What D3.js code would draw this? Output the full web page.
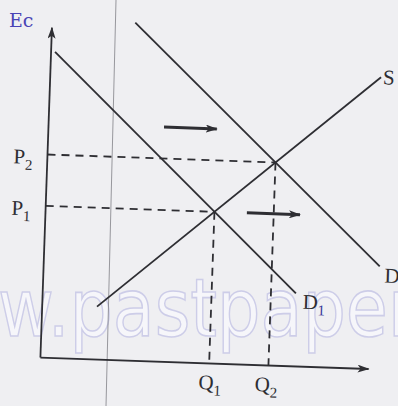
<!DOCTYPE html>
<html><head><meta charset="utf-8">
<script src="https://cdn.jsdelivr.net/npm/d3@7"></script>
<style>html,body{margin:0;padding:0;background:#efeff2;}svg{display:block;}</style>
</head><body>
<svg id="chart" width="398" height="406"></svg>
<script>
// ---- data (quantity, price) in chart units ----
const demand1 = [[0.12, 9.27], [7.67, 2.21]];
const demand2 = [[2.52, 10.24], [10.18, 3.12]];
const supply  = [[1.66, 1.6], [10.02, 8.85]];
const curveLabels = ["D", "1", "D", "S"];
const priceLabels = ["P", "1", "P", "2"];
const qtyLabels = ["Q", "1", "Q", "2"];
const shiftArrows = [[[3.5, 7.11], [5.1, 7.11]], [[6.1, 4.6], [7.71, 4.6]]];
const axisMax = [9.95, 10.0];

const svg = d3.select("#chart");
svg.append("rect").attr("width", 398).attr("height", 406).attr("fill", "#efeff2");

// watermark (faint)
svg.append("text").attr("x", -2).attr("y", 336)
  .attr("font-family", "DejaVu Sans").attr("font-size", 80)
  .attr("textLength", 418).attr("lengthAdjust", "spacingAndGlyphs")
  .attr("fill", "#f6f6fa").attr("stroke", "#cdcde8").attr("stroke-width", 1.6)
  .text("w.pastpaper");

// page fold line
svg.append("line").attr("x1", 116).attr("y1", 0).attr("x2", 106).attr("y2", 406)
  .attr("stroke", "#7a7a80").attr("stroke-width", 1).attr("opacity", 0.75);

// handwritten note
svg.append("text").attr("x", 9).attr("y", 27).attr("font-family", "DejaVu Serif")
  .attr("font-size", 19).attr("fill", "#4a44b5").text("Ec");

const x = d3.scaleLinear().domain([0, 10]).range([46, 376]);
const y = d3.scaleLinear().domain([0, 10]).range([363, 33]);

const g = svg.append("g").attr("transform", "rotate(2,200,200)");
const ink = "#2e2e33";

const defs = svg.append("defs");
defs.append("marker").attr("id", "ah").attr("viewBox", "0 0 12 8")
  .attr("refX", 11).attr("refY", 4).attr("markerWidth", 12).attr("markerHeight", 8)
  .attr("markerUnits", "userSpaceOnUse").attr("orient", "auto")
  .append("path").attr("d", "M0,0 L12,4 L0,8 L3,4 Z").attr("fill", ink);

// axes
g.append("line").attr("x1", x(0)).attr("y1", y(0)).attr("x2", x(0)).attr("y2", y(axisMax[1]))
  .attr("stroke", ink).attr("stroke-width", 1.8).attr("marker-end", "url(#ah)");
g.append("line").attr("x1", x(0)).attr("y1", y(0)).attr("x2", x(axisMax[0])).attr("y2", y(0))
  .attr("stroke", ink).attr("stroke-width", 1.8).attr("marker-end", "url(#ah)");

// intersections
function intersect(a, b) {
  const [p1, p2] = a, [p3, p4] = b;
  const m1 = (p2[1] - p1[1]) / (p2[0] - p1[0]);
  const m2 = (p4[1] - p3[1]) / (p4[0] - p3[0]);
  const qx = (p3[1] - p1[1] + m1 * p1[0] - m2 * p3[0]) / (m1 - m2);
  return [qx, p1[1] + m1 * (qx - p1[0])];
}
const eqs = [intersect(demand1, supply), intersect(demand2, supply)];

// dashed guides
eqs.forEach(e => {
  g.append("line").attr("x1", x(0)).attr("y1", y(e[1])).attr("x2", x(e[0])).attr("y2", y(e[1]))
    .attr("stroke", ink).attr("stroke-width", 1.8).attr("stroke-dasharray", "8,6");
  g.append("line").attr("x1", x(e[0])).attr("y1", y(e[1])).attr("x2", x(e[0])).attr("y2", y(0))
    .attr("stroke", ink).attr("stroke-width", 1.8).attr("stroke-dasharray", "8,6");
});

// curves
const line = d3.line().x(d => x(d[0])).y(d => y(d[1]));
[demand1, demand2, supply].forEach(c => {
  g.append("path").attr("d", line(c)).attr("fill", "none").attr("stroke", ink).attr("stroke-width", 1.8);
});

// shift arrows
shiftArrows.forEach(a => {
  g.append("line").attr("x1", x(a[0][0])).attr("y1", y(a[0][1])).attr("x2", x(a[1][0])).attr("y2", y(a[1][1]))
    .attr("stroke", ink).attr("stroke-width", 3).attr("marker-end", "url(#ah)");
});

function label(px, py, main, sub, subColor) {
  const t = g.append("text").attr("x", px).attr("y", py)
    .attr("font-family", "Liberation Serif, serif").attr("font-size", 21).attr("fill", ink);
  t.append("tspan").text(main);
  if (sub) t.append("tspan").attr("dy", 6).attr("font-size", 15).attr("fill", subColor || ink).text(sub);
}
// price labels
label(x(0) - 34, y(eqs[0][1]) + 10, priceLabels[0], priceLabels[1]);
label(x(0) - 34, y(eqs[1][1]) + 10, priceLabels[2], priceLabels[3]);
// quantity labels
label(x(eqs[0][0]) - 10, y(0) + 26, qtyLabels[0], qtyLabels[1]);
label(x(eqs[1][0]) - 13, y(0) + 26, qtyLabels[2], qtyLabels[3]);
// curve labels
label(x(demand1[1][0]) + 7, y(demand1[1][1]) + 15, curveLabels[0], curveLabels[1], "#3a3a9a");
label(x(demand2[1][0]) + 5, y(demand2[1][1]) + 16, curveLabels[2]);
label(x(supply[1][0]) + 2, y(supply[1][1]) + 7, curveLabels[3]);
</script>
</body></html>
